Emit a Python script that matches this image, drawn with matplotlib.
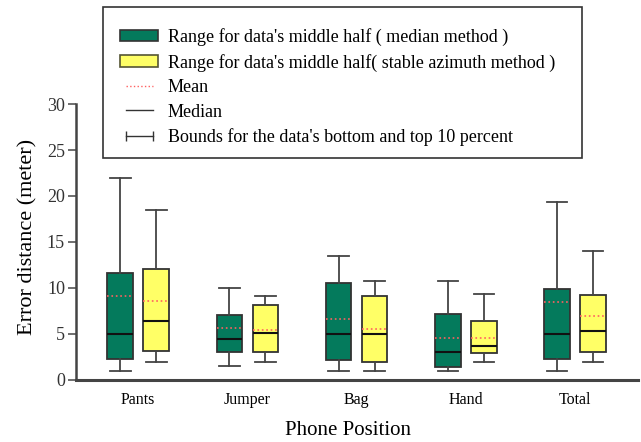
import matplotlib
matplotlib.use('Agg')
import matplotlib.pyplot as plt
from matplotlib.patches import Patch, Rectangle
from matplotlib.lines import Line2D
import numpy as np

plt.rcParams['font.family'] = ['Liberation Serif', 'DejaVu Serif']

positions_names = ['Pants', 'Jumper', 'Bag', 'Hand', 'Total']

# median method: 10th pct, Q1, median, Q3, 90th pct, mean
med_lo = [1.0, 1.5, 1.0, 1.0, 1.0]
med_q1 = [2.3, 3.0, 2.2, 1.4, 2.3]
med_med = [5.0, 4.5, 5.0, 3.0, 5.0]
med_q3 = [11.6, 7.1, 10.5, 7.2, 9.9]
med_hi = [22.0, 10.0, 13.5, 10.8, 19.3]
med_mean = [9.1, 5.6, 6.6, 4.6, 8.5]

# stable azimuth method
az_lo = [2.0, 2.0, 1.0, 2.0, 2.0]
az_q1 = [3.2, 3.0, 2.0, 2.9, 3.0]
az_med = [6.4, 5.1, 5.0, 3.7, 5.3]
az_q3 = [12.1, 8.1, 9.1, 6.4, 9.2]
az_hi = [18.5, 9.1, 10.8, 9.4, 14.0]
az_mean = [8.6, 5.4, 5.5, 4.6, 7.0]

GREEN = '#047a5c'
YELLOW = '#ffff66'
MEAN_C = '#ff6060'


def stats(lo, q1, med, q3, hi, mean):
    return [dict(whislo=a, q1=b, med=c, q3=d, whishi=e, mean=f, fliers=[])
            for a, b, c, d, e, f in zip(lo, q1, med, q3, hi, mean)]


W, H = 641, 442
fig = plt.figure(figsize=(W / 100, H / 100), dpi=100)
ax = fig.add_axes([0.1186, 0.1403, 0.8764, 0.6244])

x = np.arange(len(positions_names))
off, w = 0.165, 0.235
for st, pos, col in [
    (stats(med_lo, med_q1, med_med, med_q3, med_hi, med_mean), x - off, GREEN),
    (stats(az_lo, az_q1, az_med, az_q3, az_hi, az_mean), x + off, YELLOW),
]:
    ax.bxp(st, positions=pos, widths=w, patch_artist=True,
           showmeans=True, meanline=True, showfliers=False,
           boxprops=dict(facecolor=col, edgecolor='#333333', lw=1.3),
           medianprops=dict(color='#111111', lw=1.5),
           meanprops=dict(color=MEAN_C, ls=':', lw=1.2),
           whiskerprops=dict(color='#444444', lw=1.3),
           capprops=dict(color='#444444', lw=1.3),
           capwidths=w * 0.8)

ax.set_xlim(-0.57, 4.575)
ax.set_ylim(0, 30)
ax.set_xticks(x)
ax.set_xticklabels(positions_names, fontsize=11.5)
ax.tick_params(axis='x', length=0, pad=9)
ax.set_yticks(range(0, 31, 5))
ax.tick_params(axis='y', labelsize=13, length=6, width=1.2,
               color='#555555', labelcolor='#333333', pad=2)
for side in ['top', 'right']:
    ax.spines[side].set_visible(False)
ax.spines['left'].set_color('#444444')
ax.spines['bottom'].set_color('#444444')
ax.spines['left'].set_linewidth(1.8)
ax.spines['bottom'].set_linewidth(2.2)
ax.set_ylabel('Error distance (meter)', fontsize=16)
ax.yaxis.set_label_coords(-0.069, 0.52)
ax.set_xlabel('Phone Position', fontsize=15)
ax.xaxis.set_label_coords(0.485, -0.147)

handles = [
    Patch(facecolor=GREEN, edgecolor='#333333', lw=1.2),
    Patch(facecolor=YELLOW, edgecolor='#555533', lw=1.2),
    Line2D([], [], color=MEAN_C, ls=':', lw=1),
    Line2D([], [], color='#333333', lw=1),
    Line2D([], [], color='#333333', lw=1, marker='|', ms=7),
]
labels = ["Range for data's middle half ( median method )",
          "Range for data's middle half( stable azimuth method )",
          'Mean', 'Median',
          "Bounds for the data's bottom and top 10 percent"]
fig.legend(handles, labels, loc='upper left',
           bbox_to_anchor=(103 / W, 1 - 11 / H), borderaxespad=0,
           fontsize=13, frameon=False, numpoints=2,
           handlelength=2.1, handleheight=0.6,
           labelspacing=0.415, borderpad=0.95, handletextpad=0.55)
# legend frame
fig.add_artist(Rectangle((103 / W, 1 - 158 / H), 479 / W, 151 / H,
                         transform=fig.transFigure, fill=False,
                         edgecolor='#333333', lw=1.2))

fig.savefig('out.png', dpi=100)
